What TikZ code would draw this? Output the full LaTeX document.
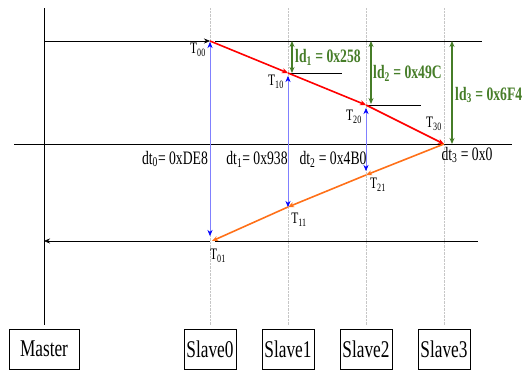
\documentclass[tikz,border=0pt]{standalone}
\usepackage{fontspec}
\setmainfont{Liberation Serif}[FakeStretch=0.72]
\usetikzlibrary{arrows.meta}
\definecolor{ld-green}{RGB}{70,125,40}
\definecolor{resp-orange}{RGB}{255,112,24}

\begin{document}
\begin{tikzpicture}[x=1pt, y=-1pt, font=\fontsize{16}{18}\selectfont,
  >={Stealth[length=6pt, width=5pt]},
  unitbox/.style={draw, fill=white, inner sep=0pt, minimum height=40pt,
    font=\fontsize{24}{26}\selectfont},
  timelbl/.style={inner sep=0pt},
  dtlbl/.style={inner sep=0pt, font=\fontsize{19}{21}\selectfont},
  ldlbl/.style={inner sep=0pt, anchor=west, text=ld-green,
    font=\fontsize{19}{21}\selectfont\bfseries},
  reqline/.style={->, red, line width=1.6pt},
  respline/.style={->, resp-orange, line width=1.6pt},
  stampline/.style={{Stealth[length=6pt, width=5pt, color=blue]}-{Stealth[length=6pt, width=5pt, color=blue]}, blue!50},
  ldline/.style={<->, ld-green, line width=1.2pt}]
  \useasboundingbox (0,0) rectangle (525,372);

  % Boites maitre / esclaves
  \node[unitbox, minimum width=70pt] (master) at (44,349) {Master};
  \draw (44,8) -- ([yshift=4pt]master.north);
  \foreach \i/\x in {0/210, 1/288, 2/366, 3/444}{
    \node[unitbox, minimum width=52pt] (slave\i) at (\x,349) {Slave\i};
    \draw[gray!45, densely dotted] (\x,8) -- ([yshift=4pt]slave\i.north);
  }

  % Instants
  \coordinate (T00) at (210,41);
  \coordinate (T10) at (288,73);
  \coordinate (T20) at (366,105);
  \coordinate (T30) at (444,144);
  \coordinate (T21) at (366,175);
  \coordinate (T11) at (288,207);
  \coordinate (T01) at (210,241);

  % Lignes du bus
  \coordinate (topL) at (45,41);   \coordinate (topR) at (482,41);
  \coordinate (midL) at (14,144);  \coordinate (midR) at (512,144);
  \coordinate (botL) at (44,241);  \coordinate (botR) at (478,241);
  \draw[->] (topL) -- (T00);
  \draw ([xshift=5pt]T00) -- (topR);
  \draw (midL) -- (midR);
  \draw[->] (T01) -- (botL);
  \draw ([xshift=5pt]T01) -- (botR);
  \draw ([xshift=2pt]T10) -- ++(52,0);
  \draw ([xshift=2pt]T20) -- ++(53,0);

  % Aller (rouge) et retour (orange)
  \draw[reqline] (T00) -- (T10);
  \draw[reqline] (T10) -- (T20);
  \draw[reqline] (T20) -- (T30);
  \draw[respline] (T30) -- (T21);
  \draw[respline] (T21) -- (T11);
  \draw[respline] (T11) -- ([xshift=2pt]T01);

  % Temps de traitement
  \draw[stampline] ([yshift=-1pt]T00) -- ([yshift=5pt]T01);
  \draw[stampline] ([yshift=-3pt]T10) -- (T11);
  \draw[stampline] ([yshift=-3pt]T20) -- ([yshift=4pt]T21);

  % Retards ld
  \foreach \i/\x/\y in {1/292/73, 2/371/104, 3/452/144}{
    \coordinate (ld\i top) at (\x,41);
    \coordinate (ld\i bot) at (\x,\y);
    \draw[ldline] (ld\i top) -- (ld\i bot);
  }
  \node[ldlbl] (ld1) at (295,57) {ld\textsubscript{1} = 0x258};
  \node[ldlbl] (ld2) at (373,73) {ld\textsubscript{2} = 0x49C};
  \node[ldlbl] (ld3) at (455,95) {ld\textsubscript{3} = 0x6F4};

  % Etiquettes T
  \node[timelbl] (lT00) at (198,50) {T\textsubscript{00}};
  \node[timelbl] (lT10) at (276,82) {T\textsubscript{10}};
  \node[timelbl] (lT20) at (354,117) {T\textsubscript{20}};
  \node[timelbl] (lT30) at (434,124) {T\textsubscript{30}};
  \node[timelbl] (lT21) at (378,185) {T\textsubscript{21}};
  \node[timelbl] (lT11) at (299,220) {T\textsubscript{11}};
  \node[timelbl] (lT01) at (218,256) {T\textsubscript{01}};

  % Etiquettes dt
  \node[dtlbl] (dt0) at (175,159) {dt\textsubscript{0}= 0xDE8};
  \node[dtlbl] (dt1) at (257,159) {dt\textsubscript{1}= 0x938};
  \node[dtlbl] (dt2) at (333,159) {dt\textsubscript{2} = 0x4B0};
  \node[dtlbl] (dt3) at (467,155) {dt\textsubscript{3} = 0x0};
\end{tikzpicture}
\end{document}
